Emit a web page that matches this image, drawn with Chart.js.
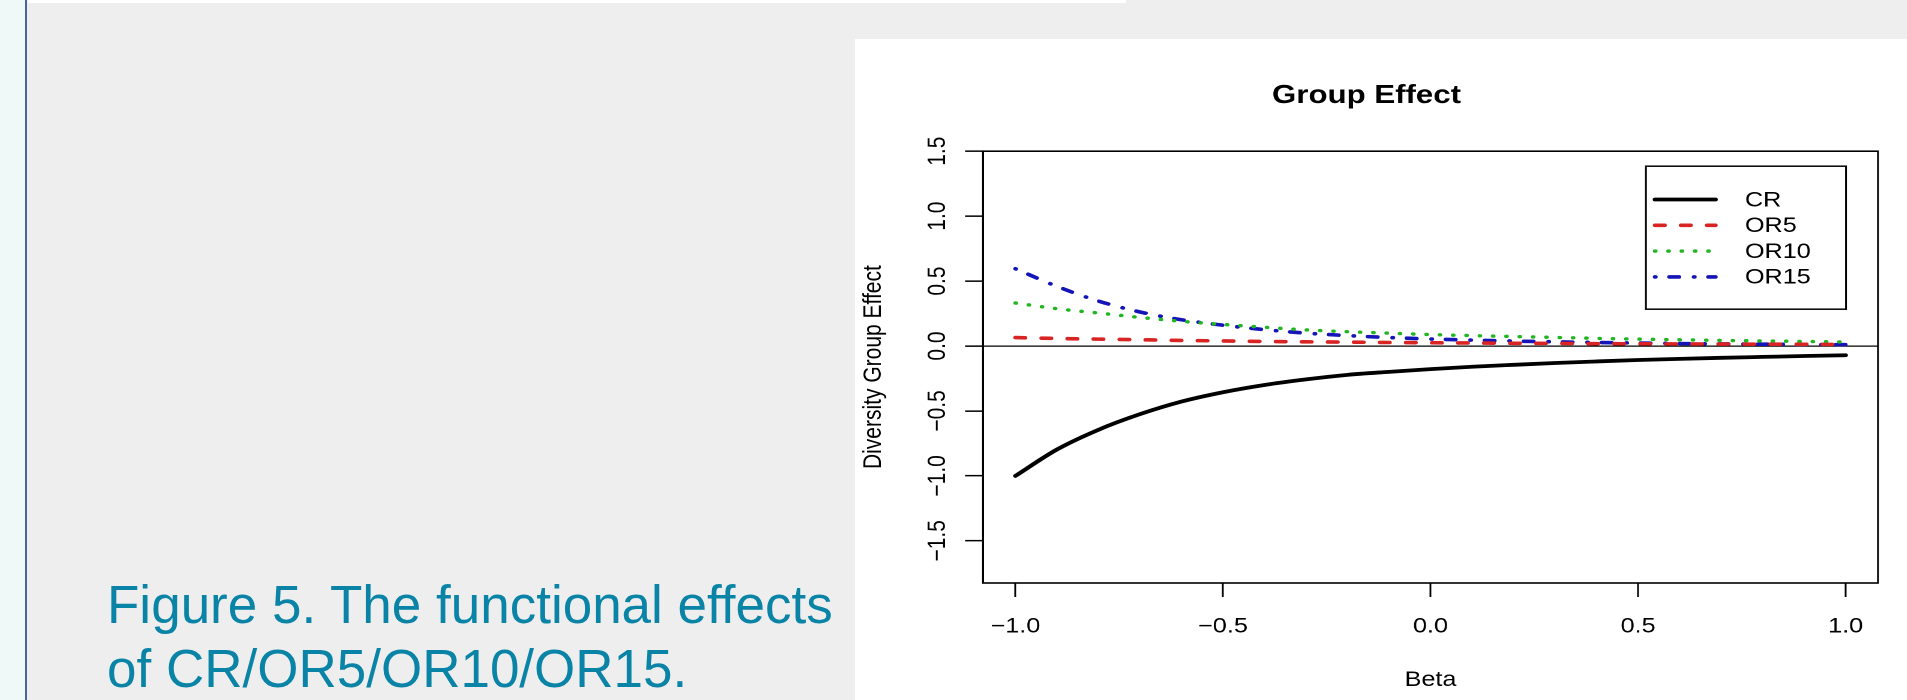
<!DOCTYPE html>
<html>
<head>
<meta charset="utf-8">
<title>Group Effect</title>
<script src="https://cdn.jsdelivr.net/npm/chart.js@4.4.1/dist/chart.umd.min.js"></script>
<style>
  html, body { margin: 0; padding: 0; }
  body {
    width: 1907px; height: 700px; overflow: hidden; position: relative;
    background: #eeeeee; font-family: "Liberation Sans", Arial, Helvetica, sans-serif;
  }
  #strip { position: absolute; left: 0; top: 0; width: 25px; height: 700px; background: #eff9f8; border-right: 2px solid #4366a8; }
  #topbar { position: absolute; left: 28px; top: 0; width: 1098px; height: 3px; background: #fff; }
  #caption {
    position: absolute; left: 107px; top: 573px; margin: 0;
    font-size: 53px; line-height: 64px; color: #0a84a6; white-space: nowrap;
  }
  #panel { position: absolute; left: 855px; top: 39px; width: 1052px; height: 661px; background: #fff; overflow: hidden; }
  #chart { position: absolute; left: 0; top: 0; transform: scaleX(1.2); transform-origin: 0 0; }
</style>
</head>
<body>
<div id="strip"></div>
<div id="topbar"></div>
<p id="caption">Figure 5. The functional effects<br>of CR/OR5/OR10/OR15.</p>
<div id="panel"><canvas id="chart" width="877" height="661"></canvas></div>

<script>
// values, one point per 0.1 of beta
const beta = [-1.0, -0.9, -0.8, -0.7, -0.6, -0.5, -0.4, -0.3, -0.2, -0.1, 0.0,
  0.1, 0.2, 0.3, 0.4, 0.5, 0.6, 0.7, 0.8, 0.9, 1.0];
const cr = [-1.0, -0.797, -0.645, -0.525, -0.428, -0.356, -0.300, -0.257, -0.222, -0.199, -0.178,
  -0.160, -0.145, -0.131, -0.119, -0.108, -0.099, -0.091, -0.084, -0.077, -0.071];
const or5 = [0.065, 0.058, 0.053, 0.048, 0.043, 0.039, 0.035, 0.032, 0.030, 0.027, 0.025,
  0.023, 0.021, 0.020, 0.018, 0.017, 0.016, 0.015, 0.014, 0.013, 0.012];
const or10 = [0.331, 0.287, 0.254, 0.220, 0.190, 0.166, 0.144, 0.124, 0.110, 0.099, 0.088,
  0.080, 0.073, 0.066, 0.059, 0.053, 0.048, 0.043, 0.039, 0.035, 0.031];
const or15 = [0.595, 0.459, 0.346, 0.262, 0.202, 0.160, 0.126, 0.099, 0.080, 0.065, 0.054,
  0.045, 0.038, 0.032, 0.027, 0.023, 0.019, 0.016, 0.014, 0.012, 0.010];

const seriesNames = ["CR", "OR5", "OR10", "OR15"];
const xTickValues = [-1.0, -0.5, 0.0, 0.5, 1.0];
const yTickValues = [-1.5, -1.0, -0.5, 0.0, 0.5, 1.0, 1.5];

const FONT = '"Liberation Sans", Arial, Helvetica, sans-serif';
Chart.defaults.font.family = FONT;
Chart.defaults.color = "#000";

const fmt = (v) => (v === 0 ? "0.0" : Number(v).toFixed(1).replace("-", "\u2212"));
const pts = (ys) => beta.map((b, i) => ({ x: b, y: ys[i] }));

// R-style frame round the plot region
const boxFrame = {
  id: "boxFrame",
  afterDatasetsDraw(chart) {
    const { ctx, chartArea: a } = chart;
    ctx.save();
    ctx.strokeStyle = "#000";
    ctx.lineWidth = 1.6;
    ctx.strokeRect(a.left, a.top, a.right - a.left, a.bottom - a.top);
    ctx.restore();
  },
};

// legend box in the top right corner, drawn from the datasets
const legendBox = {
  id: "legendBox",
  afterDraw(chart) {
    const { ctx, chartArea: a } = chart;
    const w = 166.7, h = 143;
    const left = a.right - 26.7 - w;
    const top = a.top + 15;
    ctx.save();
    ctx.fillStyle = "#fff";
    ctx.fillRect(left, top, w, h);
    ctx.strokeStyle = "#000";
    ctx.lineWidth = 1.5;
    ctx.strokeRect(left, top, w, h);
    ctx.font = "21px " + FONT;
    ctx.textBaseline = "middle";
    chart.data.datasets.forEach((ds, i) => {
      const y = top + 33.3 + i * 25.8;
      ctx.beginPath();
      ctx.setLineDash(ds.borderDash || []);
      ctx.lineCap = "round";
      ctx.strokeStyle = ds.borderColor;
      ctx.lineWidth = ds.borderWidth;
      ctx.moveTo(left + 7.5, y);
      ctx.lineTo(left + 58, y);
      ctx.stroke();
      ctx.setLineDash([]);
      ctx.fillStyle = "#000";
      ctx.fillText(ds.label, left + 82.5, y + 1);
    });
    ctx.restore();
  },
};

new Chart(document.getElementById("chart"), {
  type: "line",
  data: {
    datasets: [
      { label: seriesNames[0], data: pts(cr), borderColor: "#000", borderWidth: 3.8, borderDash: [] },
      { label: seriesNames[1], data: pts(or5), borderColor: "#d92424", borderWidth: 3.6, borderDash: [8.1, 13.6] },
      { label: seriesNames[2], data: pts(or10), borderColor: "#22b522", borderWidth: 3.4, borderDash: [0.5, 10.6] },
      { label: seriesNames[3], data: pts(or15), borderColor: "#1414b8", borderWidth: 3.6, borderDash: [0.5, 11.5, 8.1, 12.4] },
    ],
  },
  options: {
    responsive: false,
    animation: false,
    devicePixelRatio: 2,
    layout: { padding: { left: 0, right: 24.5, top: 0, bottom: 0 } },
    elements: {
      point: { radius: 0, hoverRadius: 0 },
      line: { fill: false, cubicInterpolationMode: "monotone", borderCapStyle: "round", borderJoinStyle: "round" },
    },
    plugins: {
      legend: { display: false },
      tooltip: { enabled: false },
      title: {
        display: true,
        text: "Group Effect",
        color: "#000",
        font: { size: 26, weight: "bold" },
        padding: { top: 41, bottom: 40 },
      },
    },
    scales: {
      x: {
        type: "linear",
        min: -1.078,
        max: 1.078,
        afterBuildTicks: (s) => { s.ticks = xTickValues.map((v) => ({ value: v })); },
        afterFit: (s) => { s.height = 117; },
        border: { display: false },
        grid: { drawOnChartArea: false, tickLength: 14, tickColor: "#000", tickWidth: 1.5 },
        ticks: { font: { size: 21 }, padding: 17, maxRotation: 0, autoSkip: false, callback: fmt },
        title: { display: true, text: "Beta", font: { size: 21 }, padding: { top: 0, bottom: 7.4 } },
      },
      y: {
        type: "linear",
        min: -1.825,
        max: 1.5,
        afterBuildTicks: (s) => { s.ticks = yTickValues.map((v) => ({ value: v })); },
        afterFit: (s) => { s.width = 106.7; },
        border: { display: false },
        grid: {
          color: (c) => (c.tick && c.tick.value === 0 ? "#000" : "rgba(0,0,0,0)"),
          lineWidth: 1.3,
          tickLength: 15,
          tickColor: "#000",
          tickWidth: 1.5,
        },
        ticks: { font: { size: 21 }, minRotation: 90, maxRotation: 90, crossAlign: "center", padding: 2, autoSkip: false, callback: fmt },
        title: { display: true, text: "Diversity Group Effect", font: { size: 21 }, padding: { top: 3.2, bottom: 0 } },
      },
    },
  },
  plugins: [boxFrame, legendBox],
});
</script>
</body>
</html>
